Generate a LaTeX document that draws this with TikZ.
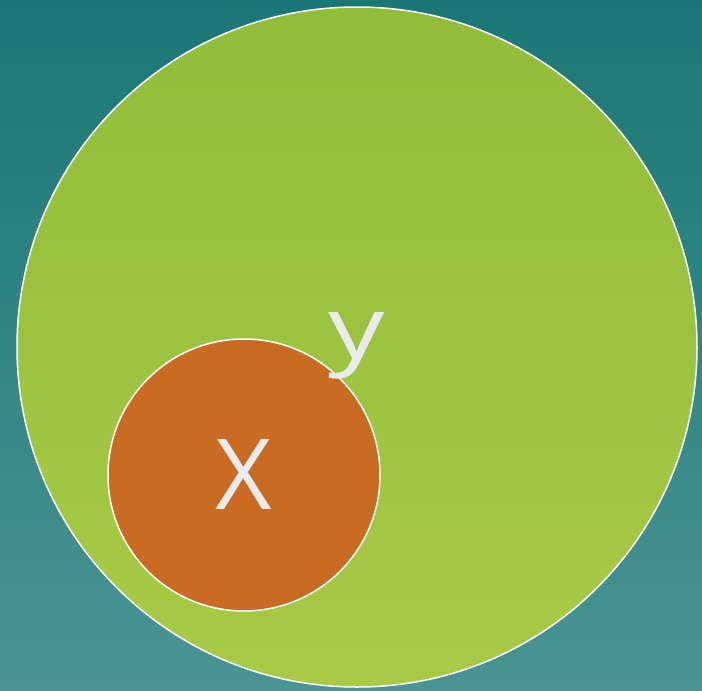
\documentclass[tikz,border=0pt]{standalone}
\usepackage{fontspec}
\setmainfont{Open Sans}
\definecolor{bgtop}{RGB}{26,119,117}
\definecolor{bgbot}{RGB}{74,149,147}
\definecolor{grtop}{RGB}{145,189,58}
\definecolor{grbot}{RGB}{168,202,70}
\definecolor{orng}{RGB}{201,107,35}
\definecolor{txt}{RGB}{235,235,235}
\tikzset{
  ring/.style={draw=white, line width=1.5pt},
  lbl/.style={text=txt, inner sep=0pt}
}
\begin{document}
\begin{tikzpicture}[x=1pt,y=-1pt]
\useasboundingbox (0,0) rectangle (702,691);
\shade[top color=bgtop, bottom color=bgbot] (0,0) rectangle (702,691);
\shade[ring, top color=grtop, bottom color=grbot] (357,347) circle[radius=340];
\node[circle, ring, fill=orng, minimum size=272pt, inner sep=0pt] (xc) at (244,475) {};
\node[lbl, font=\fontsize{98}{98}\selectfont] (xl) at (xc.center) {X};
\node[lbl, anchor=base, xscale=1.3, font=\fontsize{86}{86}\selectfont] (yl) at (357,358) {y};
\end{tikzpicture}
\end{document}
